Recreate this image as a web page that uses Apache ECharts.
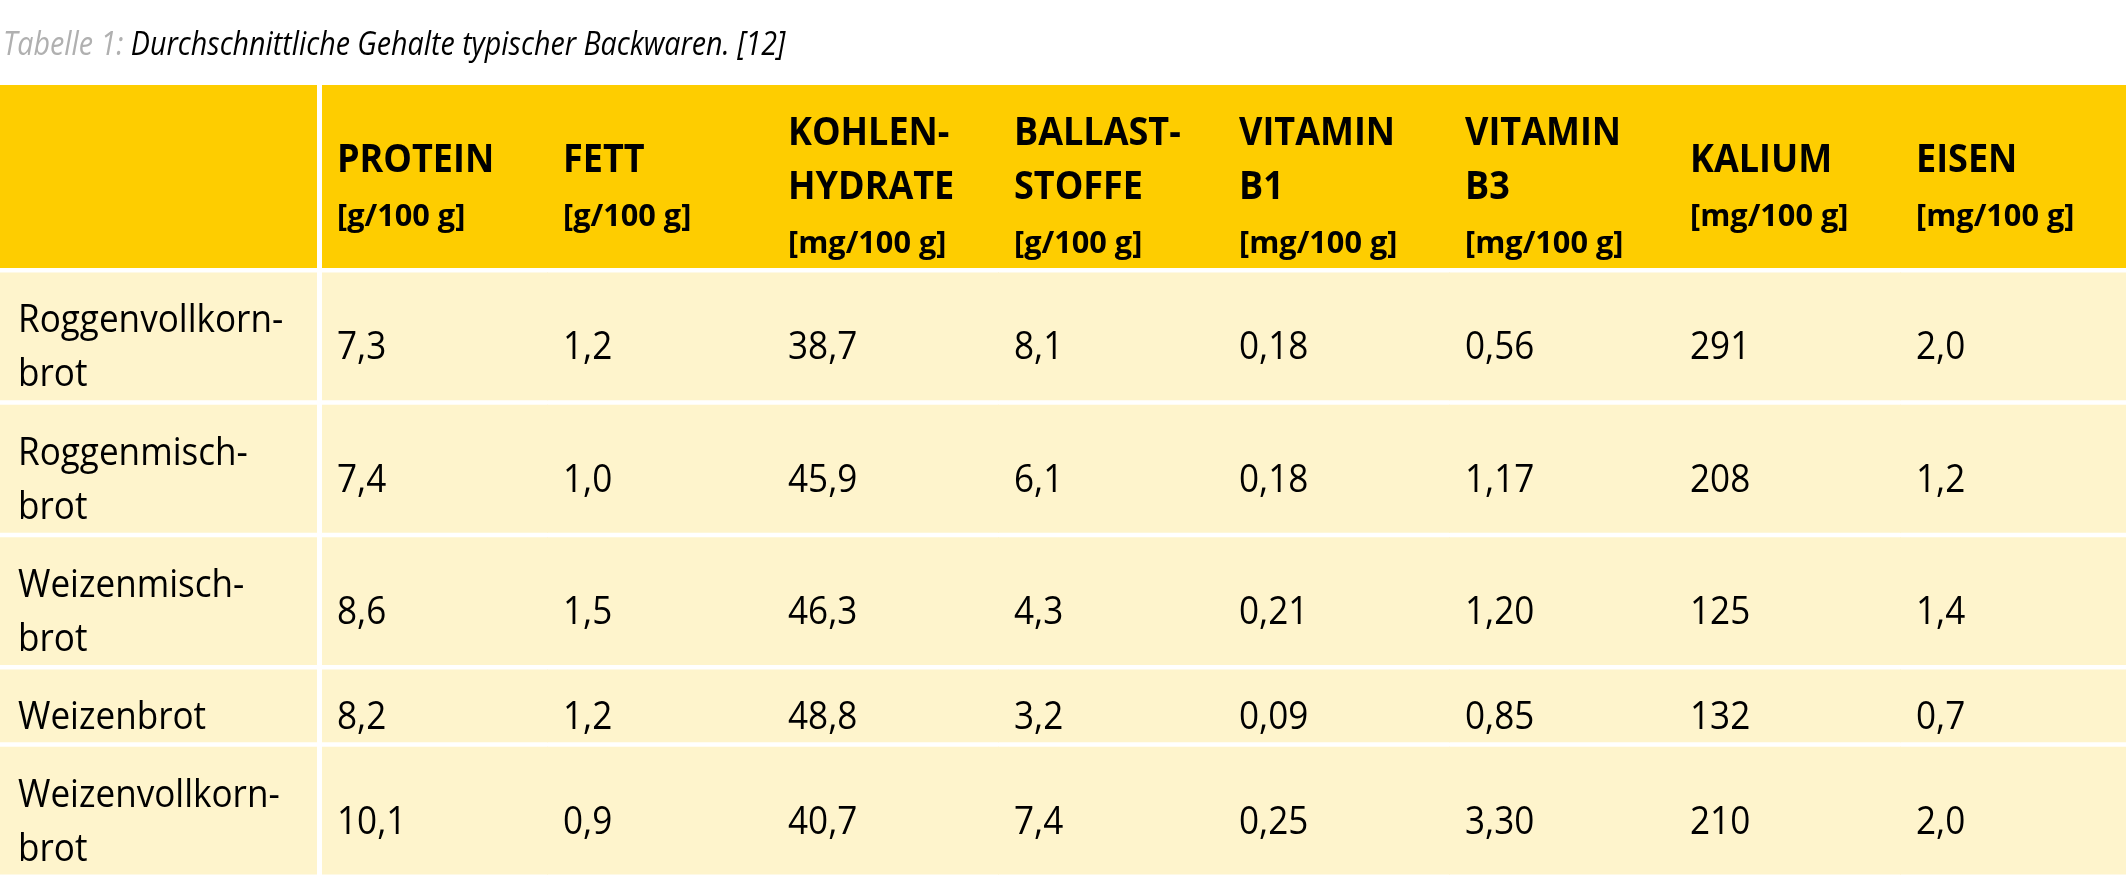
<!DOCTYPE html>
<html>
<head>
<meta charset="utf-8">
<script src="https://cdn.jsdelivr.net/npm/echarts@6/dist/echarts.min.js"></script>
<style>
  html, body { margin: 0; padding: 0; background: #fff; }
  #table { width: 2126px; height: 895px; }
</style>
</head>
<body>
<div id="table"></div>
<script>
'use strict';

const captionLabel = 'Tabelle 1:';
const captionText = 'Durchschnittliche Gehalte typischer Backwaren. [12]';

const breads = ['Roggenvollkorn-\nbrot', 'Roggenmisch-\nbrot', 'Weizenmisch-\nbrot', 'Weizenbrot', 'Weizenvollkorn-\nbrot'];
const columnNames = ['PROTEIN', 'FETT', 'KOHLEN-\nHYDRATE', 'BALLAST-\nSTOFFE', 'VITAMIN\nB1', 'VITAMIN\nB3', 'KALIUM', 'EISEN'];
const columnUnits = ['[g/100 g]', '[g/100 g]', '[mg/100 g]', '[g/100 g]', '[mg/100 g]', '[mg/100 g]', '[mg/100 g]', '[mg/100 g]'];

const protein = [7.3, 7.4, 8.6, 8.2, 10.1];
const fett = [1.2, 1.0, 1.5, 1.2, 0.9];
const kohlenhydrate = [38.7, 45.9, 46.3, 48.8, 40.7];
const ballaststoffe = [8.1, 6.1, 4.3, 3.2, 7.4];
const vitaminB1 = [0.18, 0.18, 0.21, 0.09, 0.25];
const vitaminB3 = [0.56, 1.17, 1.20, 0.85, 3.30];
const kalium = [291, 208, 125, 132, 210];
const eisen = [2.0, 1.2, 1.4, 0.7, 2.0];
const decimals = [1, 1, 1, 1, 2, 2, 0, 1];

const columns = [protein, fett, kohlenhydrate, ballaststoffe, vitaminB1, vitaminB3, kalium, eisen];

// row heights come from the number of text lines in each row
const headerLines = Math.max(...columnNames.map((n) => n.split('\n').length + 1));
const rowLines = [headerLines].concat(breads.map((b) => b.split('\n').length));
const rowUnits = rowLines.map((n) => n + 0.4);
const rowStart = [];
rowUnits.reduce((acc, u, i) => { rowStart[i] = acc; return acc + u; }, 0);
const totalUnits = rowUnits.reduce((a, b) => a + b, 0);

const fmt = (v, d) => v.toFixed(d).replace('.', ',');

const FONT = '"Open Sans", "Noto Sans", sans-serif';
const YELLOW = '#fecd00';
const CREAM = '#fef4cc';
const GAP = 4.5;

// y of a 'middle' aligned line whose baseline should sit at b
const mid = (b, size) => b - 0.388 * size;

const textLine = (text, x, baseline, size, weight, squeeze) => ({
    type: 'text',
    x: x,
    y: mid(baseline, size),
    scaleX: squeeze || 0.9,
    style: {
        text: text,
        x: 0,
        y: 0,
        fill: '#000',
        font: weight + ' ' + size + 'px ' + FONT,
        align: 'left',
        verticalAlign: 'middle'
    },
    silent: true
});

const cellBox = (api, col, row) => {
    const cx = api.coord([col, rowStart[row]])[0];
    const w = api.size([1, 0])[0];
    const top = api.coord([col, rowStart[row]])[1];
    const bottom = api.coord([col, rowStart[row] + rowUnits[row]])[1] - GAP;
    const left = Math.floor(cx - w / 2);
    const right = Math.ceil(cx + w / 2);
    return { left: left, width: right - left, top: top, bottom: bottom };
};

const renderData = (params, api) => {
    const col = api.value(0);
    const row = api.value(1);
    const box = cellBox(api, col, row);
    const center = (box.top + box.bottom) / 2;
    const children = [{
        type: 'rect',
        shape: { x: box.left, y: box.top, width: box.width, height: box.bottom - box.top },
        style: { fill: row === 0 ? YELLOW : CREAM },
        silent: true
    }];
    const tx = Math.round(api.coord([col, 0])[0] - api.size([1, 0])[0] / 2) + 15;
    if (row === 0) {
        const names = columnNames[col].split('\n');
        const baselines = names.map((n, i) => i * 54);
        baselines.push(baselines[baselines.length - 1] + 53);
        const shift = center + 26 - baselines[baselines.length - 1] / 2;
        names.forEach((n, i) => children.push(textLine(n, tx, baselines[i] + shift, 40, 'bold')));
        children.push(textLine(columnUnits[col], tx, baselines[names.length] + shift, 31, 'bold', 0.99));
    } else {
        const v = columns[col][row - 1];
        children.push(textLine(fmt(v, decimals[col]), tx, center + 27, 39, 'normal'));
    }
    return { type: 'group', children: children };
};

const renderLabel = (params, api) => {
    const row = api.value(1);
    const box = cellBox(api, 0, row);
    const center = (box.top + box.bottom) / 2;
    const children = [{
        type: 'rect',
        shape: { x: box.left, y: box.top, width: box.width - 5, height: box.bottom - box.top },
        style: { fill: row === 0 ? YELLOW : CREAM },
        silent: true
    }];
    if (row > 0) {
        const lines = breads[row - 1].split('\n');
        const shift = center + 27 - (lines.length - 1) * 54 / 2;
        lines.forEach((l, i) => children.push(textLine(l, box.left + 18, shift + i * 54, 39, 'normal')));
    }
    return { type: 'group', children: children };
};

const dataCells = [];
for (let r = 0; r < rowUnits.length; r++) {
    for (let c = 0; c < columnNames.length; c++) {
        dataCells.push([c, r]);
    }
}
const labelCells = rowUnits.map((u, r) => [0, r]);

const hiddenY = (gridIndex) => ({
    type: 'value', gridIndex: gridIndex, inverse: true, min: 0, max: totalUnits, show: false
});

const chart = echarts.init(document.getElementById('table'), null, { renderer: 'canvas' });
chart.setOption({
    animation: false,
    backgroundColor: '#fff',
    graphic: [{
        type: 'text',
        x: 3,
        y: mid(58, 32),
        scaleX: 0.895,
        style: {
            text: '{a|' + captionLabel + '} {b|' + captionText + '}',
            font: 'italic 32px ' + FONT,
            verticalAlign: 'middle',
            rich: {
                a: { fill: '#b0b0b0', fontStyle: 'italic', fontWeight: 'normal', fontSize: 32, fontFamily: FONT },
                b: { fill: '#000', fontStyle: 'italic', fontWeight: 'normal', fontSize: 32, fontFamily: FONT }
            }
        }
    }],
    grid: [
        { left: 0, width: 322, top: 85, bottom: 16 },
        { left: 322, right: 0, top: 85, bottom: 16 }
    ],
    xAxis: [
        { type: 'category', gridIndex: 0, data: [''], show: false },
        { type: 'category', gridIndex: 1, data: columnNames, show: false }
    ],
    yAxis: [hiddenY(0), hiddenY(1)],
    series: [
        { type: 'custom', xAxisIndex: 0, yAxisIndex: 0, data: labelCells, renderItem: renderLabel, clip: false },
        { type: 'custom', xAxisIndex: 1, yAxisIndex: 1, data: dataCells, renderItem: renderData, clip: false }
    ]
});
</script>
</body>
</html>
